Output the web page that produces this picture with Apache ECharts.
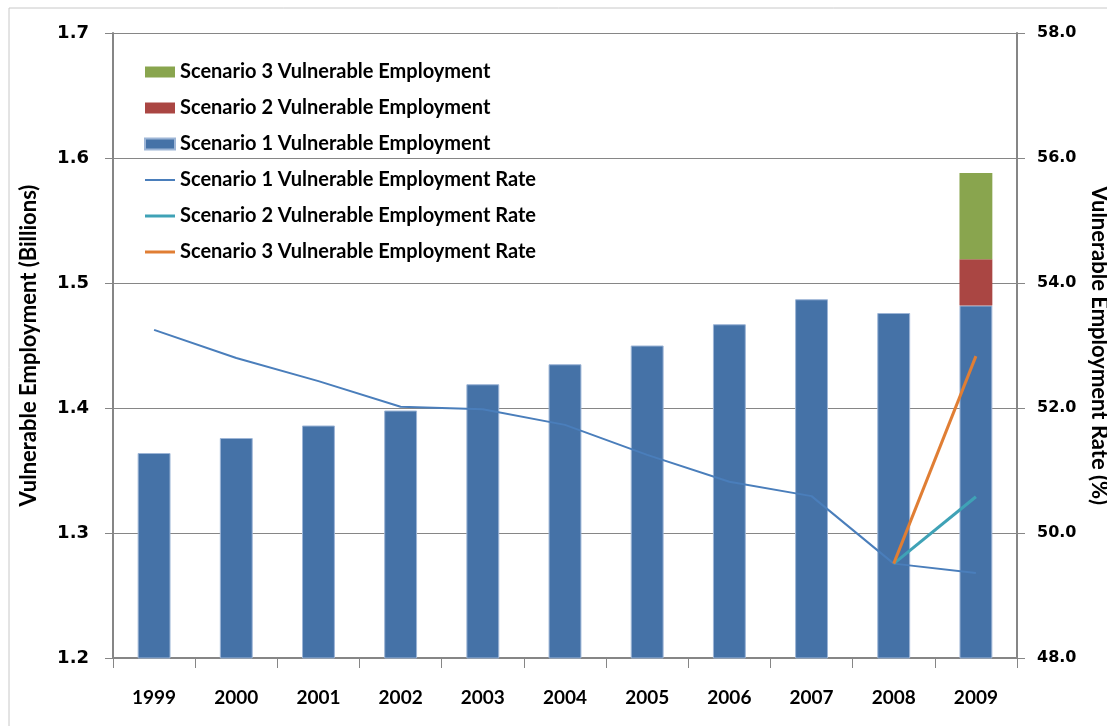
<!DOCTYPE html>
<html>
<head>
<meta charset="utf-8">
<script src="https://cdn.jsdelivr.net/npm/echarts@6/dist/echarts.min.js"></script>
<style>
  html, body { margin: 0; padding: 0; background: #fff; }
  #chart { width: 1107px; height: 726px; }
</style>
</head>
<body>
<div id="chart"></div>
<script>
const years = ["1999", "2000", "2001", "2002", "2003", "2004", "2005", "2006", "2007", "2008", "2009"];

// vulnerable employment, billions (2009 extra scenarios stacked on top of scenario 1)
const scenario1Emp = [1.364, 1.376, 1.386, 1.398, 1.419, 1.435, 1.450, 1.467, 1.487, 1.476, 1.482];
const scenario2Emp = [null, null, null, null, null, null, null, null, null, null, 0.037];
const scenario3Emp = [null, null, null, null, null, null, null, null, null, null, 0.069];

// vulnerable employment rate, %
const scenario1Rate = [53.25, 52.80, 52.43, 52.02, 51.98, 51.73, 51.25, 50.82, 50.59, 49.51, 49.36];
const scenario2Rate = [null, null, null, null, null, null, null, null, null, 49.51, 50.58];
const scenario3Rate = [null, null, null, null, null, null, null, null, null, 49.51, 52.83];

const tickFont = "DejaVu Sans";
const textFont = "Lato";
const axisGrey = "#868686";

const chart = echarts.init(document.getElementById("chart"));

chart.setOption({
  backgroundColor: "#fff",
  animation: false,
  textStyle: { fontFamily: textFont },
  graphic: [{
    type: "rect",
    shape: { x: 9, y: 8, width: 1110, height: 730 },
    style: { fill: "none", stroke: "#c8c8c8", lineWidth: 1 }
  }],
  grid: { left: 113, right: 90, top: 33, bottom: 68, outerBoundsMode: "none" },
  legend: {
    orient: "vertical",
    left: 139,
    top: 57,
    itemWidth: 30,
    itemHeight: 11,
    itemGap: 16,
    textStyle: { fontFamily: textFont, fontWeight: "bold", fontSize: 20, color: "#000", lineHeight: 20 },
    data: [
      { name: "Scenario 3 Vulnerable Employment", icon: "rect" },
      { name: "Scenario 2 Vulnerable Employment", icon: "rect" },
      { name: "Scenario 1 Vulnerable Employment", icon: "rect" },
      { name: "Scenario 1 Vulnerable Employment Rate", icon: "path://M0,0h30v2h-30z" },
      { name: "Scenario 2 Vulnerable Employment Rate", icon: "path://M0,0h30v3h-30z" },
      { name: "Scenario 3 Vulnerable Employment Rate", icon: "path://M0,0h30v3h-30z" }
    ]
  },
  xAxis: {
    type: "category",
    data: years,
    axisLine: { lineStyle: { color: axisGrey, width: 2 } },
    axisTick: { show: true, length: 10, lineStyle: { color: axisGrey, width: 1 } },
    axisLabel: { fontFamily: textFont, fontWeight: "bold", fontSize: 19, color: "#000", margin: 30 }
  },
  yAxis: [
    {
      type: "value",
      min: 1.2, max: 1.7, interval: 0.1,
      name: "Vulnerable Employment (Billions)",
      nameLocation: "middle",
      nameGap: 73,
      nameMoveOverlap: false,
      nameTextStyle: { fontFamily: textFont, fontWeight: "bold", fontSize: 22, color: "#000" },
      axisLine: { show: true, lineStyle: { color: axisGrey, width: 2 } },
      axisTick: { show: true, length: 8, lineStyle: { color: axisGrey } },
      splitLine: { lineStyle: { color: axisGrey, width: 1 } },
      axisLabel: { fontFamily: tickFont, fontWeight: "bold", fontSize: 18, color: "#000", margin: 24,
        formatter: v => v.toFixed(1) }
    },
    {
      type: "value",
      min: 48, max: 58, interval: 2,
      name: "Vulnerable Employment Rate (%)",
      nameLocation: "middle",
      nameRotate: -90,
      nameGap: 71,
      nameMoveOverlap: false,
      nameTextStyle: { fontFamily: textFont, fontWeight: "bold", fontSize: 22, color: "#000" },
      axisLine: { show: true, lineStyle: { color: axisGrey, width: 2 } },
      axisTick: { show: true, length: 8, lineStyle: { color: axisGrey } },
      splitLine: { show: false },
      axisLabel: { fontFamily: tickFont, fontWeight: "bold", fontSize: 16, color: "#000", margin: 20,
        formatter: v => v.toFixed(1) }
    }
  ],
  series: [
    {
      name: "Scenario 1 Vulnerable Employment",
      type: "bar", stack: "emp", barWidth: "40%",
      itemStyle: { color: "#4572A7", borderColor: "#9db5d6", borderWidth: 1 },
      data: scenario1Emp
    },
    {
      name: "Scenario 2 Vulnerable Employment",
      type: "bar", stack: "emp",
      itemStyle: { color: "#AA4643" },
      data: scenario2Emp
    },
    {
      name: "Scenario 3 Vulnerable Employment",
      type: "bar", stack: "emp",
      itemStyle: { color: "#89A54E" },
      data: scenario3Emp
    },
    {
      name: "Scenario 1 Vulnerable Employment Rate",
      type: "line", yAxisIndex: 1, symbol: "none", z: 5,
      lineStyle: { color: "#4A7EBB", width: 2 },
      itemStyle: { color: "#4A7EBB" },
      data: scenario1Rate
    },
    {
      name: "Scenario 2 Vulnerable Employment Rate",
      type: "line", yAxisIndex: 1, symbol: "none", z: 5,
      lineStyle: { color: "#3FA2B6", width: 3 },
      itemStyle: { color: "#3FA2B6" },
      data: scenario2Rate
    },
    {
      name: "Scenario 3 Vulnerable Employment Rate",
      type: "line", yAxisIndex: 1, symbol: "none", z: 6,
      lineStyle: { color: "#E07E34", width: 3 },
      itemStyle: { color: "#E07E34" },
      data: scenario3Rate
    }
  ]
});
</script>
</body>
</html>
